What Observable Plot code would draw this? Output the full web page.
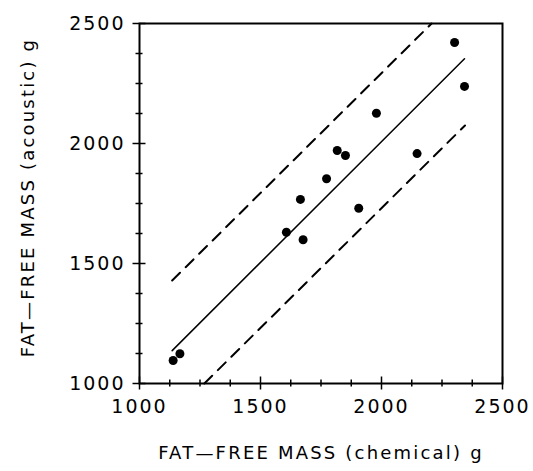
<!DOCTYPE html>
<html><head><meta charset="utf-8">
<script src="https://cdn.jsdelivr.net/npm/d3@7"></script>
<script src="https://cdn.jsdelivr.net/npm/@observablehq/plot@0.6"></script>
<style>
body{margin:0;background:#fff;}
#chart svg{display:block;}
g[aria-label="x-axis tick label"] text, g[aria-label="y-axis tick label"] text{letter-spacing:2px;}
g[aria-label="text"] text{letter-spacing:2.2px;}
</style></head><body><div id="chart"></div>
<script>
// measured points
const chemical = [1139, 1167, 1607, 1676, 1665, 1773, 1817, 1851, 1906, 1979, 2147, 2302, 2343];
const acoustic = [1096, 1124, 1630, 1599, 1767, 1853, 1971, 1950, 1730, 2126, 1958, 2421, 2238];
// regression line and prediction limits (endpoints)
const fitX = [1135, 2343];
const fitY = [1137, 2353];
const upperX = [1135, 2207];
const upperY = [1429, 2500];
const lowerX = [1268, 2345];
const lowerY = [1000, 2075];
// ticks
const majorTicks = [1000, 1500, 2000, 2500];
const minorTicks = [1125, 1250, 1375, 1625, 1750, 1875, 2125, 2250, 2375];
const xLabel = "FAT\u2014FREE MASS (chemical) g";
const yLabel = "FAT\u2014FREE MASS (acoustic) g";

const pts = chemical.map((c, i) => ({c, a: acoustic[i]}));
const fit = fitX.map((x, i) => ({x, y: fitY[i]}));
const upper = upperX.map((x, i) => ({x, y: upperY[i]}));
const lower = lowerX.map((x, i) => ({x, y: lowerY[i]}));

const plot = Plot.plot({
  width: 533, height: 471,
  marginLeft: 139, marginRight: 31, marginTop: 23, marginBottom: 88,
  x: {domain: [1000, 2500]},
  y: {domain: [1000, 2500]},
  style: {fontFamily: "DejaVu Sans", color: "#000", background: "#fff", overflow: "visible"},
  marks: [
    Plot.axisX({ticks: minorTicks, tickSize: 7, dy: -3.5, fill: "none", strokeWidth: 1.5, label: null}),
    Plot.axisX({ticks: majorTicks, tickSize: 13, dy: -6.5, fill: "none", strokeWidth: 1.5, label: null}),
    Plot.axisY({ticks: minorTicks, tickSize: 7, dx: 3.5, fill: "none", strokeWidth: 1.5, label: null}),
    Plot.axisY({ticks: majorTicks, tickSize: 13, dx: 6.5, fill: "none", strokeWidth: 1.5, label: null}),
    Plot.axisX({ticks: majorTicks, tickSize: 0, tickPadding: 16, fontSize: 19, tickFormat: "d", label: null}),
    Plot.axisY({ticks: majorTicks, tickSize: 0, tickPadding: 14, fontSize: 19, tickFormat: "d", label: null}),
    Plot.frame({stroke: "#000", strokeWidth: 2}),
    Plot.line(fit, {x: "x", y: "y", stroke: "#000", strokeWidth: 1.5}),
    Plot.line(upper, {x: "x", y: "y", stroke: "#000", strokeWidth: 2, strokeDasharray: "11,8"}),
    Plot.line(lower, {x: "x", y: "y", stroke: "#000", strokeWidth: 2, strokeDasharray: "11,8"}),
    Plot.dot(pts, {x: "c", y: "a", r: 4.5, fill: "#000", stroke: null}),
    Plot.text([xLabel], {frameAnchor: "bottom", dy: 70, fontSize: 18, lineAnchor: "middle", textAnchor: "middle", fill: "#000"}),
    Plot.text([yLabel], {frameAnchor: "left", rotate: -90, dx: -111, dy: -6, fontSize: 18, lineAnchor: "middle", textAnchor: "middle", fill: "#000"})
  ]
});
document.getElementById("chart").appendChild(plot);
</script></body></html>
